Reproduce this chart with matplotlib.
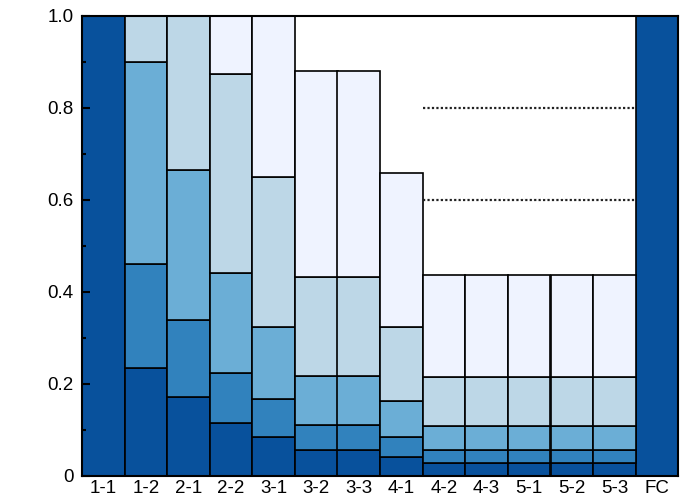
import numpy as np
import matplotlib.pyplot as plt
from matplotlib.ticker import MultipleLocator

plt.rcParams['font.family'] = ['Liberation Sans', 'DejaVu Sans']

labels = ["1-1", "1-2", "2-1", "2-2", "3-1", "3-2", "3-3",
          "4-1", "4-2", "4-3", "5-1", "5-2", "5-3", "FC"]
# cumulative top of each layer per bar (0 = layer not present)
layer1 = [1.0, 0.234, 0.172, 0.115, 0.085, 0.056, 0.056, 0.042, 0.028, 0.028, 0.028, 0.028, 0.028, 1.0]
layer2 = [0, 0.460, 0.339, 0.225, 0.168, 0.111, 0.111, 0.084, 0.056, 0.056, 0.056, 0.056, 0.056, 0]
layer3 = [0, 0.900, 0.665, 0.441, 0.323, 0.217, 0.217, 0.163, 0.108, 0.108, 0.108, 0.108, 0.108, 0]
layer4 = [0, 1.0, 1.0, 0.873, 0.650, 0.432, 0.432, 0.323, 0.215, 0.215, 0.215, 0.215, 0.215, 0]
layer5 = [0, 0, 0, 1.0, 1.0, 0.880, 0.880, 0.658, 0.437, 0.437, 0.437, 0.437, 0.437, 0]
ref_levels = [0.6, 0.8]

colors = ["#08519c", "#3182bd", "#6baed6", "#bdd7e7", "#eff3ff"]

fig = plt.figure(figsize=(7, 5), dpi=100)
ax = fig.add_axes([0.117, 0.048, 0.852, 0.92])

x = np.arange(len(labels))
bottom = np.zeros(len(labels))
for tops, c in zip([layer1, layer2, layer3, layer4, layer5], colors):
    tops = np.array(tops, dtype=float)
    h = np.where(tops > 0, tops - bottom, 0)
    mask = h > 0
    ax.bar(x[mask], h[mask], bottom=bottom[mask], width=1.0, color=c,
           edgecolor="black", linewidth=1.2)
    bottom = np.where(tops > 0, tops, bottom)

for lv in ref_levels:
    ax.hlines(lv, 7.5, 12.5, colors="#222222", linestyles=(0, (1, 1)), linewidth=1.6)

ax.set_xlim(-0.5, len(labels) - 0.5)
ax.set_ylim(0, 1.0)
ax.set_xticks(x)
ax.set_xticklabels(labels, fontsize=13.5)
ax.tick_params(axis="x", length=0, pad=3)
ax.yaxis.set_minor_locator(MultipleLocator(0.1))
ax.set_yticks([0, 0.2, 0.4, 0.6, 0.8, 1.0])
ax.set_yticklabels(["0", "0.2", "0.4", "0.6", "0.8", "1.0"], fontsize=13.5)
ax.tick_params(axis="y", which="both", direction="in", width=1.5, pad=6)
ax.tick_params(axis="y", which="major", length=6)
ax.tick_params(axis="y", which="minor", length=3)
for s in ax.spines.values():
    s.set_linewidth(1.5)
    s.set_zorder(5)

fig.savefig("out.png", dpi=100)
